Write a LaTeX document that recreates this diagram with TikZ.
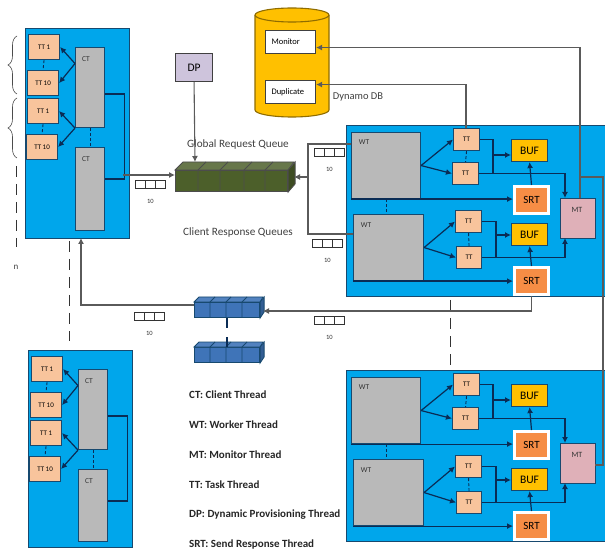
\documentclass[tikz,border=0pt]{standalone}
\usepackage{fontspec}
\setmainfont{Carlito}
\usetikzlibrary{arrows.meta,decorations.pathreplacing}
\definecolor{panelblue}{HTML}{00A6EB}
\definecolor{paneledge}{HTML}{17496F}
\definecolor{peach}{HTML}{F8C49C}
\definecolor{threadgray}{HTML}{B9B9B9}
\definecolor{gold}{HTML}{FFC000}
\definecolor{goldedge}{HTML}{8F6C00}
\definecolor{srtorange}{HTML}{F68D45}
\definecolor{mtpink}{HTML}{DFB0B8}
\definecolor{dplilac}{HTML}{CEC4DC}
\definecolor{qgreen}{HTML}{4C5F2A}
\definecolor{qblue}{HTML}{3F74B8}
\definecolor{wirenavy}{HTML}{0A2C55}
\definecolor{wiregray}{HTML}{5A5A5A}
\tikzset{
  box/.style = {draw = paneledge, line width = 1.1pt, rectangle, anchor = north west, inner sep = 0pt},
  panel/.style = {box, fill = panelblue},
  tasknode/.style = {box, fill = peach, minimum width = 26pt, minimum height = 22pt, font = \fontsize{7}{8}\selectfont},
  clientnode/.style = {box, fill = threadgray, minimum width = 29pt},
  workernode/.style = {box, fill = threadgray, minimum width = 69pt, minimum height = 66pt},
  bufnode/.style = {box, fill = gold, minimum width = 36pt, minimum height = 22pt, font = \fontsize{11.5}{13}\selectfont},
  srtnode/.style = {box, draw = white, line width = 3pt, fill = srtorange, minimum width = 34pt, minimum height = 27pt, font = \fontsize{11}{13}\selectfont},
  dbnode/.style = {box, draw = black!75, fill = white, minimum width = 50pt, minimum height = 23pt, text width = 38pt, align = left, font = \fontsize{8.5}{10}\selectfont},
  corner/.style = {font = \fontsize{7.5}{9}\selectfont, inner sep = 0pt, text = black!80},
  cell/.style = {draw = black!80, fill = white, line width = 0.9pt, rectangle, anchor = north west, inner sep = 0pt, minimum width = 10pt, minimum height = 8pt},
  wire/.style = {draw = wirenavy, line width = 1.2pt},
  wirearrow/.style = {wire, -{Latex[length=6pt,width=6pt]}},
  gwire/.style = {draw = wiregray, line width = 1.1pt},
  gwirearrow/.style = {gwire, -{Latex[length=6pt,width=6pt]}},
  shortdash/.style = {draw = wirenavy, line width = 0.9pt, dash pattern = on 3pt off 2pt},
  longdash/.style = {draw = black!80, line width = 1pt, dash pattern = on 11pt off 7pt},
  legend/.style = {anchor = west, inner sep = 0pt, font = \fontsize{11}{13}\selectfont\bfseries, text = black!85},
  caption/.style = {inner sep = 0pt, font = \fontsize{11.2}{13}\selectfont, text = black!75}
}
\begin{document}
\begin{tikzpicture}[x = 1pt, y = -1pt]
\useasboundingbox (0,0) rectangle (605,553);
% client side panels
\foreach \p/\dx/\dy/\ph/\cb in {a/0/0/210/83, b/3/322/197/72}{
  \node[panel, minimum width = 104pt, minimum height = \ph pt] (cp\p) at ({25+\dx},{28+\dy}) {};
  \node[tasknode, minimum width = 31pt, minimum height = 25pt] (tta\p) at ({28+\dx},{34+\dy}) {TT 1};
  \node[tasknode, minimum width = 31pt, minimum height = 25pt] (ttb\p) at ({27+\dx},{70+\dy}) {TT 10};
  \node[tasknode, minimum width = 31pt, minimum height = 25pt] (ttc\p) at ({27+\dx},{98+\dy}) {TT 1};
  \node[tasknode, minimum width = 31pt, minimum height = 25pt] (ttd\p) at ({26+\dx},{134+\dy}) {TT 10};
  \node[clientnode, minimum height = 80pt] (cta\p) at ({75+\dx},{47+\dy}) {};
  \node[clientnode, minimum height = \cb pt] (ctb\p) at ({75+\dx},{147+\dy}) {};
  \node[corner] (cla\p) at ({86+\dx},{59+\dy}) {CT};
  \node[corner] (clb\p) at ({86+\dx},{159+\dy}) {CT};
  \draw[wirearrow] (cta\p.west) ++(0,-24) -- (tta\p.east);
  \draw[wirearrow] (cta\p.west) ++(0,-24) -- (ttb\p.east);
  \draw[wirearrow] (cta\p.south west) -- (ttc\p.east);
  \draw[wirearrow] (cta\p.south west) -- (ttd\p.east);
  \draw[shortdash] (tta\p.south) -- (ttb\p.north);
  \draw[shortdash] (ttc\p.south) -- (ttd\p.north);
  \draw[shortdash] (cta\p.south) -- (ctb\p.north);
  \draw[wire] ([yshift=-47pt]cta\p.north east) -- ++(19,0) |- ([yshift=-32pt]ctb\p.north east);
}
\draw[decorate, decoration = {brace, amplitude = 9pt}, line width = 0.6pt, draw = black!70] (17,94) -- (17,36);
\draw[decorate, decoration = {brace, amplitude = 9pt}, line width = 0.6pt, draw = black!70] (17,158) -- (17,98);
\coordinate (ndasha) at (16,166);
\coordinate (ndashb) at (16,247);
\draw[longdash] (ndasha) -- (ndashb);
\node[caption, font = \fontsize{9}{10}\selectfont] (ntxt) at (16,267) {n};
\coordinate (cdasha) at (69,241);
\coordinate (cdashb) at (69,341);
\draw[longdash] (cdasha) -- (cdashb);
% worker side panels
\foreach \p/\dy in {a/0, b/245}{
  \node[panel, minimum width = 265pt, minimum height = 171pt] (wp\p) at (346,{125+\dy}) {};
  \node[workernode] (wta\p) at (351,{132+\dy}) {};
  \node[workernode, minimum width = 70pt] (wtb\p) at (353,{214+\dy}) {};
  \node[corner] (wla\p) at (364,{142+\dy}) {WT};
  \node[corner] (wlb\p) at (366,{225+\dy}) {WT};
  \node[tasknode] (tta\p w) at (453,{128+\dy}) {TT};
  \node[tasknode] (ttb\p w) at (452,{162+\dy}) {TT};
  \node[tasknode] (ttc\p w) at (455,{210+\dy}) {TT};
  \node[tasknode, minimum width = 25pt] (ttd\p w) at (456,{246+\dy}) {TT};
  \node[bufnode] (bfa\p) at (511,{139+\dy}) {BUF};
  \node[bufnode] (bfb\p) at (511,{223+\dy}) {BUF};
  \node[srtnode] (sra\p) at (513,{185+\dy}) {SRT};
  \node[srtnode] (srb\p) at (513,{266+\dy}) {SRT};
  \node[box, fill = mtpink, minimum width = 35pt, minimum height = 40pt] (mt\p) at (560,{198+\dy}) {};
  \node[corner, font = \fontsize{8}{9}\selectfont] (mtl\p) at (577,{210+\dy}) {MT};
  \coordinate (joina\p) at (493,{155+\dy});
  \coordinate (joinb\p) at (496,{235+\dy});
  \coordinate (mtina\p) at (565,{198+\dy});
  \coordinate (mtinb\p) at (565,{238+\dy});
  \draw[wirearrow] (wta\p.east) -- (tta\p w.west);
  \draw[wirearrow] (wta\p.east) -- (ttb\p w.west);
  \draw[wirearrow] (wtb\p.east) -- (ttc\p w.west);
  \draw[wirearrow] (wtb\p.east) -- (ttd\p w.west);
  \draw[shortdash] (tta\p w.south) -- (ttb\p w.north);
  \draw[shortdash] (ttc\p w.south) -- (ttd\p w.north);
  \draw[shortdash] (wta\p.south) -- (wta\p.south |- wtb\p.north);
  \draw[wire] (tta\p w.east) -| (joina\p);
  \draw[wire] (joina\p) -- (joina\p |- ttb\p w.east);
  \draw[wirearrow] (ttb\p w.east) -| (mtina\p);
  \draw[wirearrow] (joina\p) -- (joina\p -| bfa\p.west);
  \draw[wire] (ttc\p w.east) -| (joinb\p);
  \draw[wire] (joinb\p) -- (joinb\p |- ttd\p w.east);
  \draw[wirearrow] (ttd\p w.east) -| (mtinb\p);
  \draw[wirearrow] (joinb\p) -- (joinb\p -| bfb\p.west);
  \draw[wirearrow] (sra\p.north) -- (bfa\p.south);
  \draw[wirearrow] (srb\p.north) -- (bfb\p.south);
  \draw[wirearrow] (wta\p.south west) -- (wta\p.south west -| sra\p.west);
  \draw[wirearrow] (wtb\p.south west) -- (wtb\p.south west -| srb\p.west);
}
\coordinate (wdasha) at (450,300);
\coordinate (wdashb) at (450,368);
\draw[longdash] (wdasha) -- (wdashb);
% queues
\node[box, draw = black!70, fill = qgreen, minimum width = 112pt, minimum height = 21pt] (grq) at (175,170) {};
\filldraw[draw = black!70, fill = qgreen!85!white, line width = 0.8pt] (grq.north west) -- ++(8,-8) -- ++(111,0) -- (grq.north east) -- cycle;
\filldraw[draw = black!70, fill = qgreen!80!black, line width = 0.8pt] (grq.north east) -- ++(7,-8) -- ++(0,22) -- (grq.south east) -- cycle;
\foreach \x in {198,220,244,265}{
  \draw[black!70, line width = 0.8pt] (\x,191) -- (\x,170) -- ++(8,-8);
}
\foreach \q/\y in {a/302, b/347}{
  \node[box, fill = qblue, minimum width = 65pt, minimum height = 15pt] (blq\q) at (194,\y) {};
  \filldraw[draw = paneledge, fill = qblue!90!white, line width = 0.8pt] (blq\q.north west) -- ++(5,-5) -- ++(64,0) -- (blq\q.north east) -- cycle;
  \filldraw[draw = paneledge, fill = qblue!80!black, line width = 0.8pt] (blq\q.north east) -- ++(4,-5) -- ++(0,15) -- (blq\q.south east) -- cycle;
  \foreach \x in {210,226,242}{
    \draw[paneledge, line width = 0.8pt] (\x,{\y+15}) -- (\x,\y) -- ++(5,-5);
  }
}
\draw[wire, dash pattern = on 10pt off 9pt] (blqa.south) -- (blqb.north);
% small three cell queues
\foreach \n/\x/\y in {ca/135/180, wa/314/148, wb/312/239, ra/134/312, rb/314/316}{
  \node[cell] (sc\n a) at (\x,\y) {};
  \node[cell, label = {[inner sep = 0pt, font = \fontsize{6.5}{7}\selectfont, yshift = -10pt, text = black!80]below:10}] (sc\n b) at ({\x+10},\y) {};
  \node[cell] (sc\n c) at ({\x+20},\y) {};
}
% dp and database
\node[box, draw = black!75, fill = dplilac, minimum width = 37pt, minimum height = 28pt, font = \fontsize{11.5}{13}\selectfont] (dp) at (175,53) {DP};
\filldraw[draw = goldedge, fill = gold, line width = 1.1pt] (255,15) -- (255,110) arc (180:360:37pt and 7pt) -- (329,15) arc (0:180:37pt and 7pt) -- cycle;
\draw[draw = goldedge, line width = 1.1pt] (255,15) arc (180:360:37pt and 7pt);
\node[dbnode] (mon) at (265,30) {Monitor};
\node[dbnode] (dup) at (265,80) {Duplicate};
\node[caption, font = \fontsize{10.5}{12}\selectfont] (ddbl) at (358,97) {Dynamo DB};
\node[caption] (grl) at (238,145) {Global Request Queue};
\node[caption] (crl) at (238,233) {Client Response Queues};
% connectors between parts
\coordinate (bus) at (123,175);
\coordinate (grqr) at (294,177);
\coordinate (wtleft) at (308,177);
\coordinate (wtopin) at (351,144);
\coordinate (wbotin) at (353,234);
\coordinate (blqin) at (263,311);
\coordinate (blqout) at (194,305);
\coordinate (cpin) at (81,238);
\coordinate (mttop) at (580,198);
\coordinate (mtout) at (580,177);
\coordinate (mtlink) at (603,177);
\coordinate (mtbin) at (595,465);
\coordinate (ddin) at (466,128);
\coordinate (dpin) at (195,162);
\draw[gwirearrow] (bus) -- (bus -| grq.west);
\draw[gwirearrow] (dp.south) -- (dpin);
\draw[gwire] (wtopin) -| (wtleft);
\draw[gwire] (wbotin) -| (wtleft);
\draw[gwirearrow] (wtleft) -- (grqr);
\draw[gwirearrow] (srba.south) |- (blqin);
\draw[gwirearrow] (blqout) -| (cpin);
\draw[gwirearrow] (mttop) |- ([yshift=-5.5pt]mon.east);
\draw[gwirearrow] (ddin) |- ([yshift=7.5pt]dup.east);
\draw[gwire] (mtout) -- (mtlink) |- (mtbin);
% legend
\node[legend] (lga) at (189,395) {CT: Client Thread};
\node[legend] (lgb) at (189,425) {WT: Worker Thread};
\node[legend] (lgc) at (189,455) {MT: Monitor Thread};
\node[legend] (lgd) at (189,485) {TT: Task Thread};
\node[legend] (lge) at (189,515) {DP: Dynamic Provisioning Thread};
\node[legend] (lgf) at (189,545) {SRT: Send Response Thread};
\end{tikzpicture}
\end{document}
